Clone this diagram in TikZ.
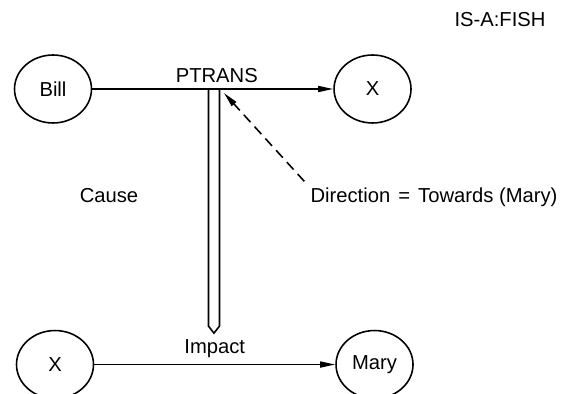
\documentclass[tikz,border=0pt]{standalone}
\usepackage{fontspec}
\setmainfont{Liberation Sans}
\usetikzlibrary{arrows.meta,calc,positioning,shapes.geometric}

\begin{document}
\begin{tikzpicture}[x=0.02cm,y=-0.02cm,
    concept/.style={ellipse, draw, line width=0.9pt, minimum width=1.54cm,
      minimum height=1.36cm, inner sep=0pt, font=\fontsize{11.5}{13}\selectfont},
    lbl/.style={font=\fontsize{11.5}{13}\selectfont},
    act/.style={-{Triangle[length=0.3cm,width=0.12cm]}, line width=0.9pt}]
   \useasboundingbox (0,0) rectangle (577,394);
   \node[concept] (bill) at (53,89) {Bill};
   \node[concept] (obj) [right=4.82cm of bill] {X};
   \node[concept] (obj2) [below=4.12cm of bill, xshift=0.04cm] {X};
   \node[concept] (mary) [right=4.82cm of obj2] {Mary};
   \node[lbl] (isa) at (500,20) {IS-A:FISH};
   \node[lbl] (cause) at (109,196) {Cause};
   \node[lbl] (dir) at (434,197) {Direction\hspace{0.4em}=\hspace{0.4em}Towards (Mary)};
    \path[act]
     (bill) edge node[lbl, above, xshift=0.08cm] (ptrans) {PTRANS}
       coordinate[pos=0.505] (top) (obj)
     (obj2) edge node[lbl, above] (impact) {Impact} (mary)
     ;
   \coordinate (hit) at ($(top)+(10,4)$);
   \coordinate (tip) at (top |- impact.north);
   % causal link, drawn as a double shaft
   \draw[line width=0.9pt, line join=miter]
     ($(top)+(-5.5,0)$) -- ($(tip)+(-5.5,-7)$) -- (tip)
       -- ($(tip)+(5.5,-7)$) -- ($(top)+(5.5,0)$);
   \draw[act, dash pattern=on 0.2cm off 0.12cm] (dir.north west) -- (hit);
\end{tikzpicture}
\end{document}
